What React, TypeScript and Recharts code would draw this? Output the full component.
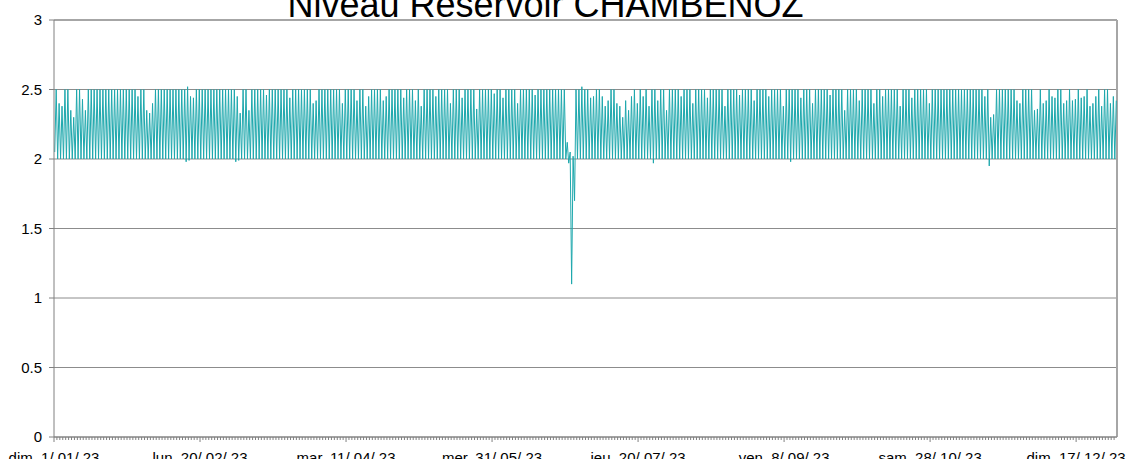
import React from "react";
import { LineChart, Line, XAxis, YAxis, CartesianGrid, ReferenceLine } from "recharts";

// Daily peak levels (m), month by month (2023-01-01 .. 2023-12-30)
const peaksJan = [2.5,2.4,2.38,2.5,2.5,2.35,2.3,2.5,2.5,2.43,2.35,2.5,2.5,2.5,2.5,2.5,2.5,2.5,2.5,2.5,2.5,2.5,2.5,2.5,2.5,2.5,2.5,2.5,2.45,2.5,2.5];
const peaksFeb = [2.35,2.33,2.4,2.5,2.5,2.5,2.5,2.5,2.5,2.5,2.5,2.5,2.5,2.5,2.52,2.45,2.44,2.5,2.5,2.5,2.5,2.5,2.5,2.5,2.5,2.5,2.5,2.5];
const peaksMar = [2.5,2.5,2.5,2.45,2.33,2.5,2.5,2.35,2.5,2.5,2.5,2.5,2.5,2.46,2.5,2.5,2.5,2.5,2.5,2.5,2.5,2.44,2.5,2.5,2.5,2.5,2.5,2.5,2.5,2.4,2.42];
const peaksApr = [2.5,2.5,2.5,2.5,2.5,2.5,2.5,2.5,2.4,2.5,2.5,2.5,2.5,2.42,2.5,2.5,2.38,2.45,2.5,2.5,2.5,2.5,2.42,2.45,2.5,2.5,2.5,2.5,2.5,2.44];
const peaksMay = [2.5,2.5,2.5,2.42,2.5,2.38,2.5,2.5,2.5,2.5,2.45,2.5,2.5,2.5,2.5,2.4,2.5,2.5,2.5,2.44,2.5,2.5,2.5,2.5,2.36,2.5,2.5,2.5,2.5,2.5,2.47];
const peaksJun = [2.5,2.5,2.44,2.5,2.5,2.5,2.5,2.4,2.5,2.5,2.5,2.5,2.5,2.46,2.5,2.5,2.5,2.5,2.5,2.5,2.5,2.5,2.5,2.5,2.12,2.05,2.02,2.5,2.5,2.52];
const peaksJul = [2.5,2.5,2.44,2.45,2.5,2.5,2.45,2.38,2.42,2.5,2.5,2.4,2.38,2.3,2.42,2.35,2.45,2.5,2.4,2.5,2.45,2.5,2.38,2.5,2.5,2.42,2.5,2.5,2.35,2.5,2.5];
const peaksAug = [2.5,2.5,2.45,2.5,2.5,2.5,2.4,2.5,2.5,2.5,2.5,2.44,2.5,2.5,2.5,2.5,2.5,2.38,2.5,2.5,2.5,2.5,2.46,2.5,2.5,2.5,2.5,2.42,2.5,2.5,2.5];
const peaksSep = [2.5,2.45,2.5,2.5,2.5,2.5,2.38,2.5,2.5,2.5,2.5,2.5,2.44,2.5,2.5,2.5,2.4,2.5,2.5,2.5,2.5,2.5,2.46,2.5,2.5,2.5,2.5,2.35,2.5,2.5];
const peaksOct = [2.5,2.5,2.42,2.5,2.5,2.5,2.5,2.4,2.5,2.5,2.45,2.5,2.5,2.5,2.5,2.5,2.38,2.5,2.5,2.5,2.44,2.5,2.5,2.5,2.5,2.5,2.4,2.5,2.5,2.5,2.5];
const peaksNov = [2.5,2.5,2.5,2.5,2.5,2.5,2.5,2.5,2.5,2.5,2.5,2.5,2.5,2.5,2.45,2.5,2.3,2.32,2.5,2.5,2.5,2.5,2.5,2.5,2.5,2.42,2.4,2.5,2.5,2.5];
const peaksDec = [2.5,2.35,2.36,2.5,2.4,2.42,2.5,2.45,2.44,2.5,2.5,2.4,2.42,2.5,2.42,2.43,2.5,2.44,2.45,2.5,2.38,2.4,2.45,2.5,2.38,2.5,2.5,2.4,2.45,2.42];

// Daily trough levels (m)
const troughsJan = [2.05,2,2,2,2,2,2,2,2,2,2,2,2,2,2,2,2,2,2,2,2,2,2,2,2,2,2,2,2,2,2];
const troughsFeb = [2,2,2,2,2,2,2,2,2,2,2,2,2,2,1.98,1.99,2,2,2,2,2,2,2,2,2,2,2,2];
const troughsMar = [2,2,2,1.98,1.99,2,2,2,2,2,2,2,2,2,2,2,2,2,2,2,2,2,2,2,2,2,2,2,2,2,2];
const troughsApr = [2,2,2,2,2,2,2,2,2,2,2,2,2,2,2,2,2,2,2,2,2,2,2,2,2,2,2,2,2,2];
const troughsMay = [2,2,2,2,2,2,2,2,2,2,2,2,2,2,2,2,2,2,2,2,2,2,2,2,2,2,2,2,2,2,2];
const troughsJun = [2,2,2,2,2,2,2,2,2,2,2,2,2,2,2,2,2,2,2,2,2,2,2,2,2,1.97,1.1,1.7,2,2];
const troughsJul = [2,2,2,2,2,2,2,2,2,2,2,2,2,2,2,2,2,2,2,2,2,2,2,2,1.97,2,2,2,2,2,2];
const troughsAug = [2,2,2,2,2,2,2,2,2,2,2,2,2,2,2,2,2,2,2,2,2,2,2,2,2,2,2,2,2,2,2];
const troughsSep = [2,2,2,2,2,2,2,2,2,1.98,2,2,2,2,2,2,2,2,2,2,2,2,2,2,2,2,2,2,2,2];
const troughsOct = [2,2,2,2,2,2,2,2,2,2,2,2,2,2,2,2,2,2,2,2,2,2,2,2,2,2,2,2,2,2,2];
const troughsNov = [2,2,2,2,2,2,2,2,2,2,2,2,2,2,2,2,1.95,2,2,2,2,2,2,2,2,2,2,2,2,2];
const troughsDec = [2,2,2,2,2,2,2,2,2,2,2,2,2,2,2,2,2,2,2,2,2,2,2,2,2,2,2,2,2,2];

// Axis ticks
const yTicks = [0, 0.5, 1, 1.5, 2, 2.5, 3];
const majorTickDays = [0, 50, 100, 150, 200, 250, 300, 350];
const majorTickLabels = [
  "dim. 1/ 01/ 23",
  "lun. 20/ 02/ 23",
  "mar. 11/ 04/ 23",
  "mer. 31/ 05/ 23",
  "jeu. 20/ 07/ 23",
  "ven. 8/ 09/ 23",
  "sam. 28/ 10/ 23",
  "dim. 17/ 12/ 23",
];
const xEnd = 364;
const title = "Niveau Reservoir CHAMBENOZ";

const peaks = [
  ...peaksJan, ...peaksFeb, ...peaksMar, ...peaksApr, ...peaksMay, ...peaksJun,
  ...peaksJul, ...peaksAug, ...peaksSep, ...peaksOct, ...peaksNov, ...peaksDec,
];
const troughs = [
  ...troughsJan, ...troughsFeb, ...troughsMar, ...troughsApr, ...troughsMay, ...troughsJun,
  ...troughsJul, ...troughsAug, ...troughsSep, ...troughsOct, ...troughsNov, ...troughsDec,
];

const levelData: { t: number; v: number }[] = [];
peaks.forEach((p, d) => {
  levelData.push({ t: d + 0.25, v: troughs[d] });
  levelData.push({ t: d + 0.75, v: p });
});

const dayTicks = peaks.map((_, d) => d);

const FONT = "'Liberation Sans', Arial, sans-serif";

const XTick = (props: any) => {
  const { x, y, payload } = props;
  const idx = majorTickDays.indexOf(payload.value);
  if (idx < 0) {
    return <line x1={x} x2={x} y1={y} y2={y + 3} stroke="#808080" strokeWidth={1} />;
  }
  return (
    <g>
      <line x1={x} x2={x} y1={y} y2={y + 5} stroke="#808080" strokeWidth={1} />
      <text x={x} y={y + 15} dy="0.71em" textAnchor="middle" fontSize={15} fontFamily={FONT} fill="#000">
        {majorTickLabels[idx]}
      </text>
    </g>
  );
};

export default function App() {
  return (
    <div style={{ position: "absolute", left: 0, top: 0, width: 1126, height: 459, background: "#fff", overflow: "hidden" }}>
      <LineChart width={1126} height={459} data={levelData} margin={{ top: 20, right: 9, bottom: 0, left: 0 }}>
        <CartesianGrid vertical={false} stroke="#8c8c8c" strokeWidth={1} />
        <XAxis
          dataKey="t"
          type="number"
          domain={[0, xEnd]}
          ticks={dayTicks}
          interval={0}
          tick={<XTick />}
          tickLine={false}
          tickSize={0}
          tickMargin={0}
          height={22}
          axisLine={{ stroke: "#808080" }}
          allowDataOverflow
        />
        <YAxis
          type="number"
          domain={[0, 3]}
          ticks={yTicks}
          width={54}
          tickSize={5}
          tickMargin={7}
          tick={{ fontSize: 15, fontFamily: FONT, fill: "#000" }}
          tickLine={{ stroke: "#808080" }}
          axisLine={{ stroke: "#808080" }}
        />
        <ReferenceLine y={3} stroke="#a6a6a6" strokeWidth={2} />
        <ReferenceLine x={xEnd} stroke="#a6a6a6" strokeWidth={2} />
        <Line
          type="linear"
          dataKey="v"
          stroke="#1ea8ad"
          strokeWidth={1}
          dot={false}
          isAnimationActive={false}
        />
      </LineChart>
      <svg width={1126} height={459} style={{ position: "absolute", left: 0, top: 0, pointerEvents: "none" }}>
        <text x={545.5} y={16.5} textAnchor="middle" fontSize={36} fontFamily={FONT} fill="#000">
          {title}
        </text>
      </svg>
    </div>
  );
}
